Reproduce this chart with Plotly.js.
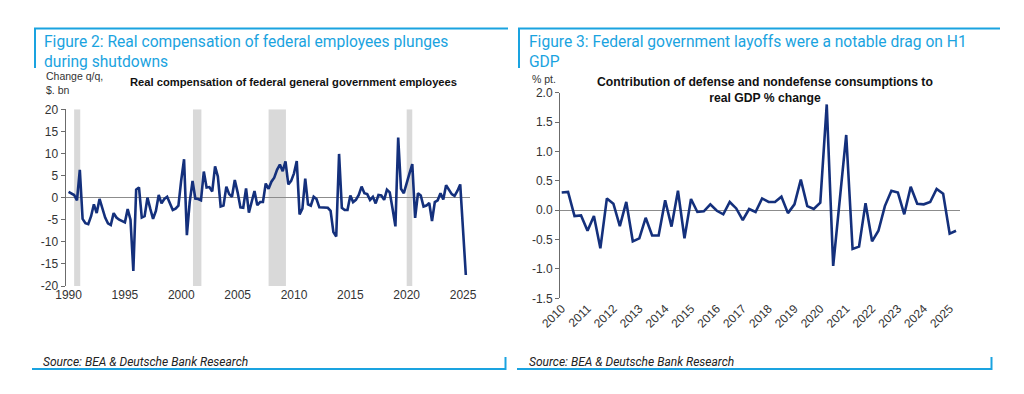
<!DOCTYPE html>
<html><head><meta charset="utf-8">
<script src="https://cdn.plot.ly/plotly-3.0.1.min.js"></script>
<style>html,body{margin:0;padding:0;background:#fff;} #chart{width:1024px;height:394px;}</style>
</head><body><div id="chart"></div>
<script>
// ---------- DATA ----------
// Figure 2: real compensation of federal general government employees, change q/q, $ bn (1990Q1 .. 2025Q2)
const compStartYear = 1990;
const compValues = [
  1.3, 1.0, 0.6, -0.6,      // 1990
  6.3, -4.8, -5.8, -6.0,    // 1991
  -4.2, -1.5, -3.5, -0.3,   // 1992
  -2.5, -4.5, -5.8, -6.2,   // 1993
  -3.5, -4.5, -5.0, -5.3,   // 1994
  -5.6, -2.6, -5.0, -16.6,  // 1995
  1.8, 2.3, -4.5, -4.2,     // 1996
  0.0, -2.5, -4.8, -3.0,    // 1997
  0.6, -1.3, -0.3, 0.2,     // 1998
  -1.2, -2.8, -2.5, -1.8,   // 1999
  4.0, 8.7, -8.5, -1.0,     // 2000
  3.8, -0.2, -0.3, -0.6,    // 2001
  5.9, 2.3, 2.4, 1.4,       // 2002
  7.1, 4.8, -2.0, -1.8,     // 2003
  2.5, 0.8, 0.2, 4.0,       // 2004
  1.2, -2.2, -2.3, 2.1,     // 2005
  -3.4, -1.0, 1.5, -1.7,    // 2006
  -1.0, -1.0, 3.2, 2.0,     // 2007
  3.6, 4.5, 6.3, 7.5,       // 2008
  6.0, 8.2, 3.0, 3.8,       // 2009
  5.5, 8.3, -3.8, -2.5,     // 2010
  4.3, -1.5, -1.8, 0.2,     // 2011
  -0.3, -2.2, -2.2, -2.2,   // 2012
  -2.3, -3.0, -7.8, -8.8,   // 2013
  9.9, -2.3, -2.8, -2.8,    // 2014
  0.5, -1.0, -0.5, 0.6,     // 2015
  2.5, 1.0, 0.8, -0.5,      // 2016
  0.2, -1.3, 0.6, 0.5,      // 2017
  -0.5, 1.8, 1.2, -2.5,     // 2018
  -6.5, 13.6, 2.0, 1.0,     // 2019
  3.5, 5.5, 7.6, -4.6,      // 2020
  1.0, 0.5, -2.0, -1.8,     // 2021
  -1.2, -5.3, -1.0, -0.6,   // 2022
  1.0, -0.4, 2.8, 1.8,      // 2023
  0.8, 0.4, 1.5, 3.0,       // 2024
  -7.0, -17.5               // 2025
];
// Recession shading periods
const recStart = ['1990-07-01', '2001-01-15', '2007-10-01', '2020-01-01'];
const recEnd   = ['1991-01-15', '2001-10-15', '2009-04-15', '2020-06-30'];
const compYTicks = [-20, -15, -10, -5, 0, 5, 10, 15, 20];
const compXTickYears = [1990, 1995, 2000, 2005, 2010, 2015, 2020, 2025];

// Figure 3: contribution of defense & nondefense consumption to real GDP % change, % pt (2010Q1 .. 2025Q2)
const gdpStartYear = 2010;
const gdpValues = [
  0.30, 0.31, -0.10, -0.09,   // 2010
  -0.35, -0.10, -0.65, 0.20,  // 2011
  0.11, -0.27, 0.14, -0.53,   // 2012
  -0.48, -0.13, -0.43, -0.43, // 2013
  0.17, -0.28, 0.33, -0.48,   // 2014
  0.19, -0.03, -0.02, 0.10,   // 2015
  -0.01, -0.07, 0.14, 0.03,   // 2016
  -0.17, 0.02, -0.03, 0.20,   // 2017
  0.14, 0.14, 0.23, -0.05,    // 2018
  0.10, 0.52, 0.07, 0.02,     // 2019
  0.13, 1.80, -0.95, 0.15,    // 2020
  1.28, -0.66, -0.62, 0.12,   // 2021
  -0.53, -0.35, 0.07, 0.33,   // 2022
  0.30, -0.07, 0.40, 0.11,    // 2023
  0.10, 0.14, 0.36, 0.28,     // 2024
  -0.40, -0.35                // 2025
];
const gdpYTicks = [-1.5, -1.0, -0.5, 0.0, 0.5, 1.0, 1.5, 2.0];
const gdpXTickYears = [2010,2011,2012,2013,2014,2015,2016,2017,2018,2019,2020,2021,2022,2023,2024,2025];

// ---------- helpers ----------
function quarterDates(startYear, n) {
  const out = [];
  for (let i = 0; i < n; i++) {
    const y = startYear + Math.floor(i / 4);
    const m = (i % 4) * 3 + 1;
    out.push(y + '-' + String(m).padStart(2, '0') + '-01');
  }
  return out;
}
const W = 1024, H = 394;
const fx = x => x / W;
const fy = y => 1 - y / H;

const blue = '#1AA3E0';
const navy = '#14307C';
const axisGray = '#6b6b6b';
const txt = '#333333';
const chartFont = 'Liberation Sans, Arial, sans-serif';
const dbFont = 'Roboto, "Open Sans", sans-serif';

const compDates = quarterDates(compStartYear, compValues.length);
const gdpDates = quarterDates(gdpStartYear, gdpValues.length);

const traces = [
  { x: compDates, y: compValues, type: 'scatter', mode: 'lines', xaxis: 'x', yaxis: 'y',
    line: { color: navy, width: 2.6 }, hoverinfo: 'skip' },
  { x: gdpDates, y: gdpValues, type: 'scatter', mode: 'lines', xaxis: 'x2', yaxis: 'y2',
    line: { color: navy, width: 2.6 }, hoverinfo: 'skip' }
];

const shapes = [];
for (let i = 0; i < recStart.length; i++) {
  shapes.push({ type: 'rect', xref: 'x', yref: 'y', x0: recStart[i], x1: recEnd[i], y0: -20, y1: 20,
    fillcolor: '#D9D9D9', line: { width: 0 }, layer: 'below' });
}
function pline(x0, y0, x1, y1, w) {
  shapes.push({ type: 'line', xref: 'paper', yref: 'paper', x0: fx(x0), y0: fy(y0), x1: fx(x1), y1: fy(y1),
    line: { color: blue, width: w } });
}
// panel frames
pline(34, 28.5, 508, 28.5, 2); pline(35, 28, 35, 68, 2);
pline(518, 28.5, 1000, 28.5, 2); pline(519, 28, 519, 68, 2);
pline(32, 369, 506, 369, 2); pline(505.5, 357, 505.5, 370, 2);
pline(517, 369, 992, 369, 2); pline(991.5, 357, 991.5, 370, 2);

function ann(text, x, y, size, opts) {
  return Object.assign({ text: text, xref: 'paper', yref: 'paper', x: fx(x), y: fy(y), showarrow: false,
    xanchor: 'left', yanchor: 'middle', align: 'left',
    font: { family: chartFont, size: size, color: txt } }, opts || {});
}
const annotations = [
  ann('Figure 2: Real compensation of federal employees plunges<br>during shutdowns', 42, 51.5, 15.6,
      { yanchor: 'middle', font: { family: dbFont, size: 15.6, color: blue }, align: 'left' }),
  ann('Figure 3: Federal government layoffs were a notable drag on H1<br>GDP', 527, 51.5, 15.6,
      { yanchor: 'middle', font: { family: dbFont, size: 15.6, color: blue }, align: 'left' }),
  ann('Change q/q,<br>$. bn', 44, 83, 10.5, { font: { family: chartFont, size: 10.5, color: txt } }),
  ann('<b>Real compensation of federal general government employees</b>', 293, 82, 11.2,
      { xanchor: 'center', font: { family: chartFont, size: 11.2, color: '#111' } }),
  ann('% pt.', 530, 79, 10.5, { font: { family: chartFont, size: 10.5, color: txt } }),
  ann('<b>Contribution of defense and nondefense consumptions to<br>real GDP % change</b>', 765, 90, 12.2,
      { xanchor: 'center', align: 'center', font: { family: chartFont, size: 12.2, color: '#111' } }),
  ann('<i>Source: BEA &amp; Deutsche Bank Research</i>', 41, 362, 12,
      { font: { family: dbFont, size: 12, color: '#222' } }),
  ann('<i>Source: BEA &amp; Deutsche Bank Research</i>', 527, 362, 12,
      { font: { family: dbFont, size: 12, color: '#222' } })
];

const layout = {
  width: W, height: H, margin: { l: 0, r: 0, t: 0, b: 0 },
  paper_bgcolor: '#fff', plot_bgcolor: 'rgba(0,0,0,0)', showlegend: false,
  font: { family: chartFont, size: 12, color: txt },
  xaxis: {
    domain: [fx(65.5), fx(470)], anchor: 'y', type: 'date',
    range: ['1989-09-24', '2025-08-14'],
    tickvals: compXTickYears.map(y => y + '-01-01'), ticktext: compXTickYears.map(String),
    showgrid: false, zeroline: false, showline: false, ticks: '',
    tickfont: { family: chartFont, size: 12, color: txt }
  },
  yaxis: {
    domain: [fy(286), fy(109.3)], anchor: 'x', range: [-20, 20],
    tickvals: compYTicks, ticktext: compYTicks.map(String),
    showgrid: false, zeroline: true, zerolinecolor: '#8c8c8c', zerolinewidth: 1,
    showline: true, linecolor: axisGray, linewidth: 1, ticks: 'outside', ticklen: 4, tickcolor: axisGray,
    tickfont: { family: chartFont, size: 12, color: txt }
  },
  xaxis2: {
    domain: [fx(560), fx(960)], anchor: 'y2', type: 'date',
    range: ['2009-12-08', '2025-05-27'],
    tickvals: gdpXTickYears.map(y => y + '-01-01'), ticktext: gdpXTickYears.map(String),
    tickangle: -45,
    showgrid: false, zeroline: false, showline: false, ticks: '',
    tickfont: { family: chartFont, size: 12, color: txt }
  },
  yaxis2: {
    domain: [fy(298.3), fy(92.7)], anchor: 'x2', range: [-1.5, 2.0],
    tickvals: gdpYTicks, ticktext: gdpYTicks.map(v => v.toFixed(1)),
    showgrid: false, zeroline: true, zerolinecolor: '#8c8c8c', zerolinewidth: 1,
    showline: true, linecolor: axisGray, linewidth: 1, ticks: 'outside', ticklen: 4, tickcolor: axisGray,
    tickfont: { family: chartFont, size: 12, color: txt }
  },
  shapes: shapes,
  annotations: annotations
};

Plotly.newPlot('chart', traces, layout, { staticPlot: true, displayModeBar: false });
</script>
</body></html>
